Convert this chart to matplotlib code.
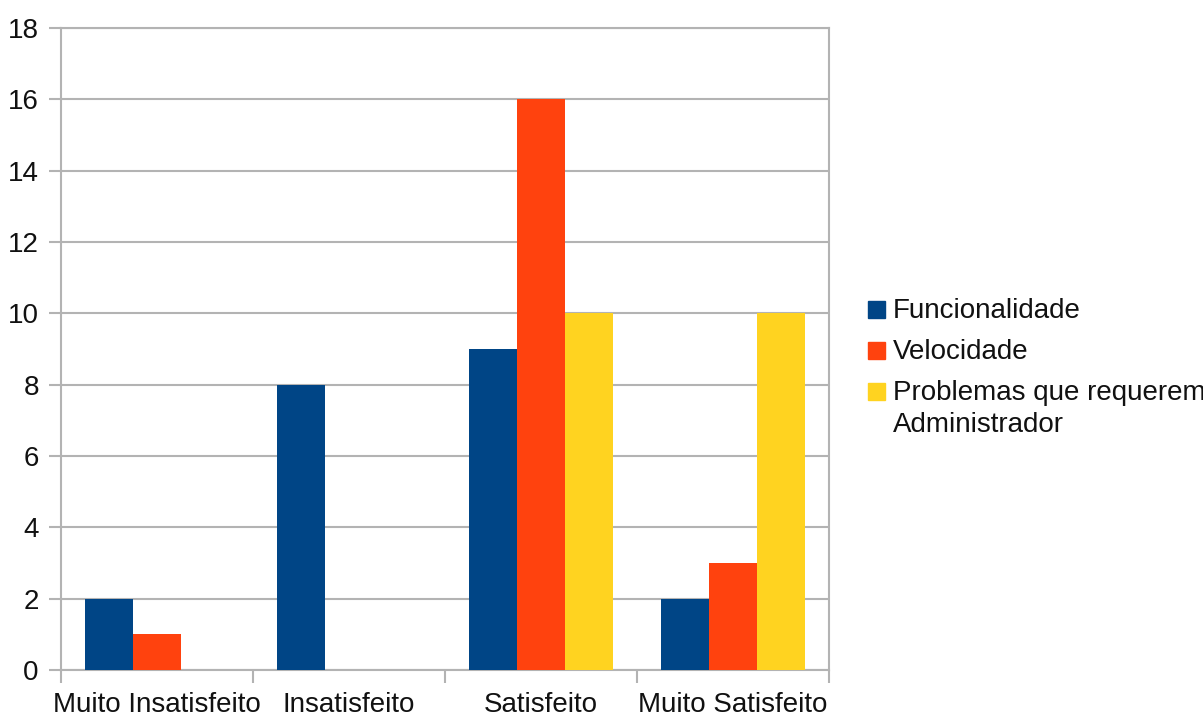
import matplotlib.pyplot as plt
from matplotlib.patches import Rectangle
import numpy as np

# Data
categories = ["Muito Insatisfeito", "Insatisfeito", "Satisfeito", "Muito Satisfeito"]
funcionalidade = [2, 8, 9, 2]
velocidade = [1, 0, 16, 3]
problemas = [0, 0, 10, 10]
series_names = ["Funcionalidade", "Velocidade", "Problemas que requerem\nAdministrador"]
colors = ["#004586", "#ff420e", "#ffd320"]

plt.rcParams['font.family'] = ['Liberation Sans', 'DejaVu Sans']
grid_col = "#b3b3b3"
text_col = "#111111"

fig = plt.figure(figsize=(12.03, 7.17), dpi=100)
ax = fig.add_axes([61 / 1203, 1 - 670 / 717, (829 - 61) / 1203, (670 - 28) / 717])

x = np.arange(len(categories))
w = 0.25
for i, (vals, c) in enumerate(zip([funcionalidade, velocidade, problemas], colors)):
    ax.bar(x + (i - 1) * w, vals, width=w, color=c, zorder=3)

ax.set_xlim(-0.5, len(categories) - 0.5)
ax.set_ylim(0, 18)
ax.set_yticks(range(0, 19, 2))
ax.yaxis.grid(True, color=grid_col, linewidth=1.5, zorder=0)

# category labels at centres, tick marks at boundaries
ax.set_xticks(x)
ax.set_xticklabels(categories)
ax.set_xticks(np.arange(-0.5, len(categories)), minor=True)
ax.tick_params(axis='x', which='major', length=0, pad=16, labelsize=20, labelcolor=text_col)
ax.tick_params(axis='x', which='minor', length=9, width=1.5, color=grid_col)
ax.tick_params(axis='y', length=9, width=1.5, color=grid_col, pad=7, labelsize=20, labelcolor=text_col)

for s in ax.spines.values():
    s.set_color(grid_col)
    s.set_linewidth(1.5)

# legend, drawn by hand so the square sits on the first line of each entry
ys = [309, 350, 391]
for name, c, y in zip(series_names, colors, ys):
    fig.patches.append(Rectangle((868 / 1203, 1 - (y + 9) / 717), 17 / 1203, 17 / 717,
                                 transform=fig.transFigure, color=c))
    fig.text(893 / 1203, 1 - (y - 11) / 717, name, fontsize=20, color=text_col,
             va='top', ha='left', linespacing=1.3)

fig.savefig("out.png", dpi=100, facecolor="white")
